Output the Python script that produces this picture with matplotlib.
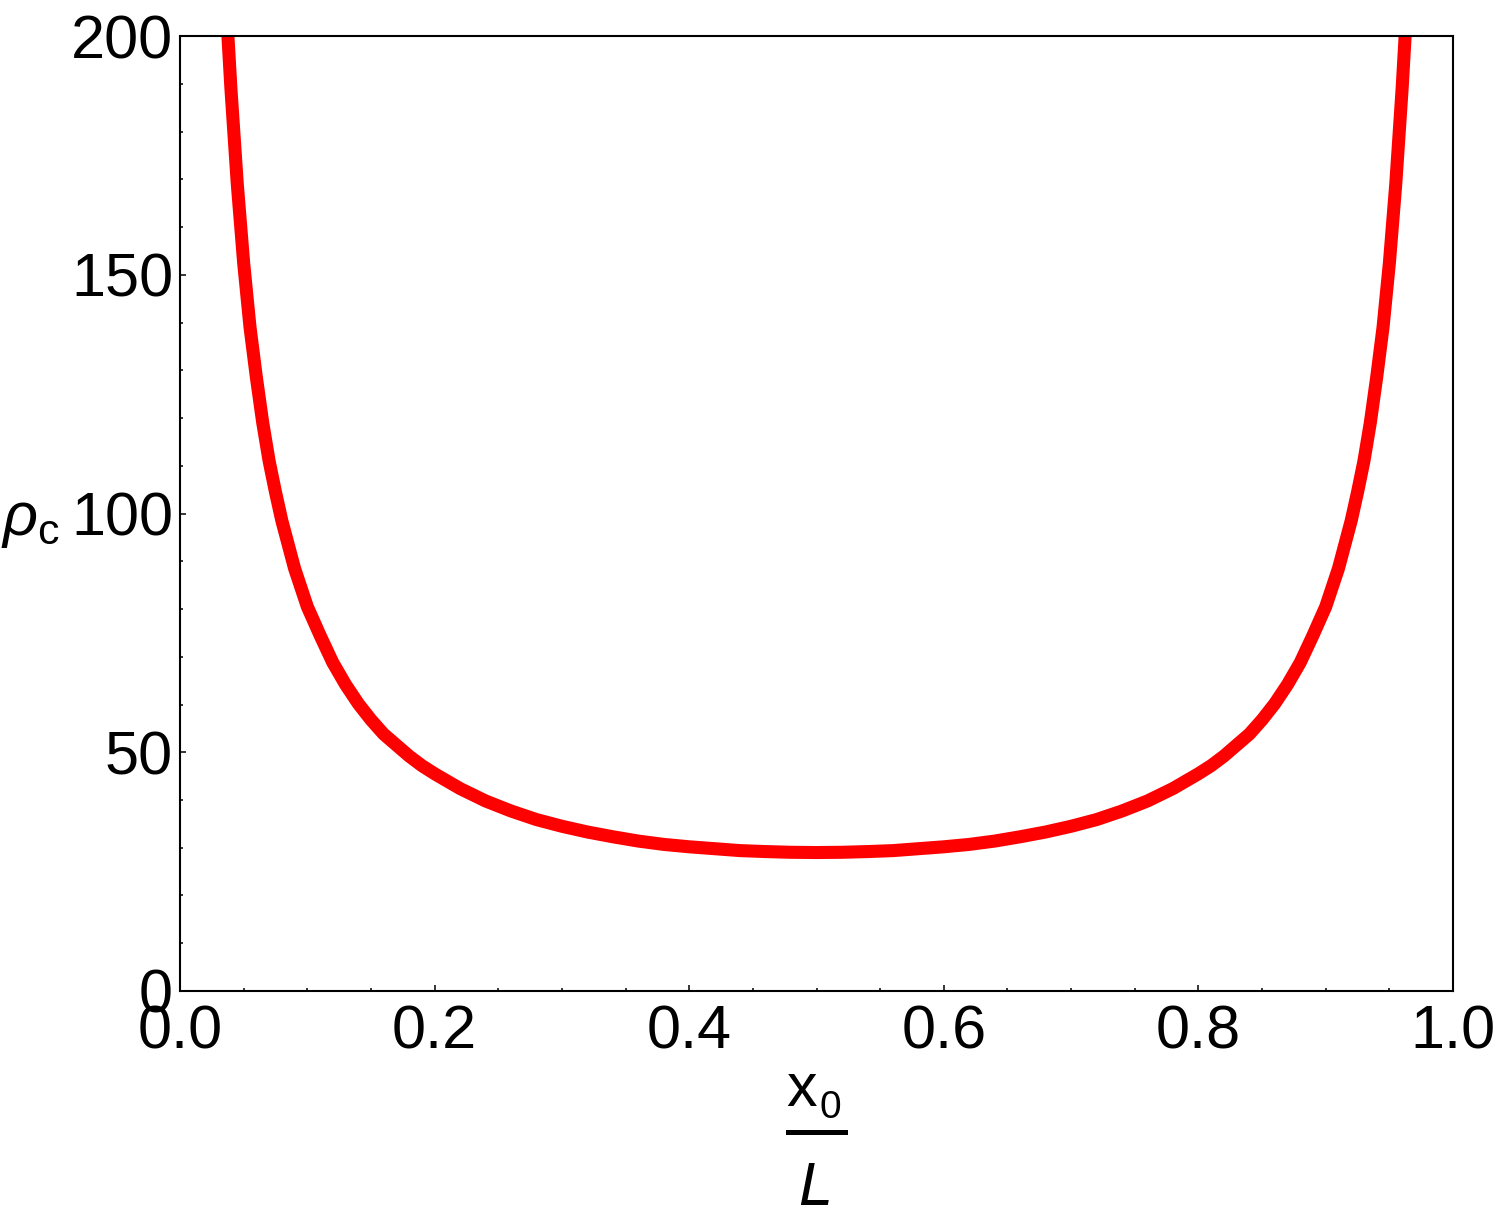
import matplotlib
matplotlib.use("Agg")
import matplotlib.pyplot as plt
from matplotlib.lines import Line2D
from matplotlib.ticker import MultipleLocator

plt.rcParams['font.family'] = ['Liberation Sans', 'DejaVu Sans']
plt.rcParams['mathtext.fontset'] = 'custom'
plt.rcParams['mathtext.rm'] = 'Liberation Sans'
plt.rcParams['mathtext.it'] = 'Liberation Sans:italic'

# values (left half, then right half)
x_left = [0.037, 0.040, 0.045, 0.050, 0.055, 0.060, 0.065, 0.070, 0.075, 0.080,
          0.085, 0.090, 0.095, 0.100, 0.110, 0.120, 0.130, 0.140, 0.150, 0.160,
          0.170, 0.180, 0.190, 0.200, 0.220, 0.240, 0.260, 0.280, 0.300, 0.320,
          0.340, 0.360, 0.380, 0.400, 0.420, 0.440, 0.460, 0.480, 0.500]
rho_left = [203, 189, 169, 152.5, 139, 128.5, 119, 111, 104.5, 98.5,
            93.5, 88.5, 84.5, 80.5, 74.5, 68.8, 64.2, 60.2, 56.8, 53.8,
            51.5, 49.2, 47.2, 45.5, 42.4, 39.8, 37.7, 35.9, 34.5, 33.3,
            32.3, 31.4, 30.7, 30.2, 29.8, 29.4, 29.2, 29.05, 29.0]
x_right = [0.520, 0.540, 0.560, 0.580, 0.600, 0.620, 0.640, 0.660, 0.680, 0.700,
           0.720, 0.740, 0.760, 0.780, 0.800, 0.810, 0.820, 0.830, 0.840, 0.850,
           0.860, 0.870, 0.880, 0.890, 0.900, 0.905, 0.910, 0.915, 0.920, 0.925,
           0.930, 0.935, 0.940, 0.945, 0.950, 0.955, 0.960, 0.963]
rho_right = [29.05, 29.2, 29.4, 29.8, 30.2, 30.7, 31.4, 32.3, 33.3, 34.5,
             35.9, 37.7, 39.8, 42.4, 45.5, 47.2, 49.2, 51.5, 53.8, 56.8,
             60.2, 64.2, 68.8, 74.5, 80.5, 84.5, 88.5, 93.5, 98.5, 104.5,
             111, 119, 128.5, 139, 152.5, 169, 189, 203]

x_ticks = [0.0, 0.2, 0.4, 0.6, 0.8, 1.0]
x_tick_labels = ['0.0', '0.2', '0.4', '0.6', '0.8', '1.0']
y_ticks = [0, 50, 100, 150, 200]
y_tick_labels = ['0', '50', '100', '150', '200']

fig = plt.figure(figsize=(15, 12.1), dpi=100)
ax = fig.add_axes([0.12, 0.181, 0.8487, 0.7892])

ax.plot(x_left + x_right, rho_left + rho_right, color=(1, 0, 0), lw=9.4,
        solid_capstyle='butt', solid_joinstyle='round')

ax.set_xlim(0, 1)
ax.set_ylim(0, 200)
ax.set_xticks(x_ticks)
ax.set_xticklabels(x_tick_labels)
ax.set_yticks(y_ticks)
ax.set_yticklabels(y_tick_labels)
ax.xaxis.set_minor_locator(MultipleLocator(0.05))
ax.yaxis.set_minor_locator(MultipleLocator(10))

ax.tick_params(which='both', direction='in', top=False, right=False,
               labelsize=44, width=1.1, color='black')
ax.tick_params(which='major', length=4.5)
ax.tick_params(which='minor', length=2.2)
ax.tick_params(axis='x', pad=9.5)
ax.tick_params(axis='y', pad=5)
for s in ax.spines.values():
    s.set_linewidth(1.5)

# y label rho_c
fig.text(1 / 1500, 1 - 535 / 1210, r'$\rho_{\mathrm{c}}$', fontsize=44,
         ha='left', va='baseline')

# x label: fraction x0 / L
fig.text(802 / 1500, 1 - 1106 / 1210, 'x', fontsize=44, ha='center', va='baseline')
fig.text(830 / 1500, 1 - 1118 / 1210, '0', fontsize=28, ha='center', va='baseline')
fig.add_artist(Line2D([788 / 1500, 845 / 1500], [1 - 1131.5 / 1210, 1 - 1131.5 / 1210],
                      transform=fig.transFigure, color='black', lw=3.6))
fig.text(815 / 1500, 1 - 1205 / 1210, 'L', fontsize=44, style='italic',
         ha='center', va='baseline')

fig.savefig('out.png', dpi=100, facecolor='white')
